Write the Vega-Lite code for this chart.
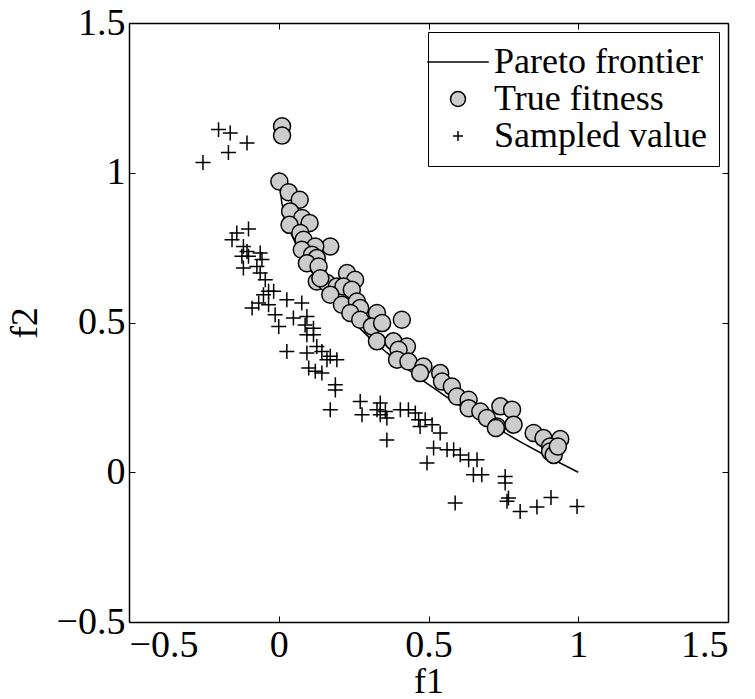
{
  "$schema": "https://vega.github.io/schema/vega-lite/v6.json",
  "width": 599,
  "height": 599,
  "autosize": "none",
  "padding": {"left": 129, "top": 23, "right": 27, "bottom": 77},
  "background": "white",
  "config": {
    "view": {"stroke": null},
    "font": "Liberation Serif",
    "axis": {
      "labelFont": "Liberation Serif",
      "labelFontSize": 38,
      "labelColor": "black",
      "titleFont": "Liberation Serif",
      "titleFontSize": 38,
      "titleFontWeight": "normal",
      "titleColor": "black",
      "domainColor": "black",
      "domainWidth": 1.5,
      "tickColor": "black",
      "tickWidth": 1,
      "tickSize": -6,
      "grid": false
    },
    "legend": {
      "labelFont": "Liberation Serif",
      "labelFontSize": 36,
      "labelColor": "black",
      "labelLimit": 500,
      "symbolStrokeWidth": 1.5
    }
  },
  "datasets": {
    "pareto": [
      {"s": "Pareto frontier", "f1": 0, "f2": 1},
      {"s": "Pareto frontier", "f1": 0.01, "f2": 0.9},
      {"s": "Pareto frontier", "f1": 0.02, "f2": 0.859},
      {"s": "Pareto frontier", "f1": 0.04, "f2": 0.8},
      {"s": "Pareto frontier", "f1": 0.06, "f2": 0.755},
      {"s": "Pareto frontier", "f1": 0.09, "f2": 0.7},
      {"s": "Pareto frontier", "f1": 0.12, "f2": 0.654},
      {"s": "Pareto frontier", "f1": 0.16, "f2": 0.6},
      {"s": "Pareto frontier", "f1": 0.2, "f2": 0.553},
      {"s": "Pareto frontier", "f1": 0.25, "f2": 0.5},
      {"s": "Pareto frontier", "f1": 0.3, "f2": 0.452},
      {"s": "Pareto frontier", "f1": 0.36, "f2": 0.4},
      {"s": "Pareto frontier", "f1": 0.42, "f2": 0.352},
      {"s": "Pareto frontier", "f1": 0.49, "f2": 0.3},
      {"s": "Pareto frontier", "f1": 0.56, "f2": 0.252},
      {"s": "Pareto frontier", "f1": 0.64, "f2": 0.2},
      {"s": "Pareto frontier", "f1": 0.72, "f2": 0.152},
      {"s": "Pareto frontier", "f1": 0.81, "f2": 0.1},
      {"s": "Pareto frontier", "f1": 0.9, "f2": 0.051},
      {"s": "Pareto frontier", "f1": 1.0, "f2": 0}
    ],
    "truefit": [
      {"s": "True fitness", "f1": 0.011, "f2": 1.155},
      {"s": "True fitness", "f1": 0.011, "f2": 1.124},
      {"s": "True fitness", "f1": 0.002, "f2": 0.971},
      {"s": "True fitness", "f1": 0.033, "f2": 0.935},
      {"s": "True fitness", "f1": 0.07, "f2": 0.91},
      {"s": "True fitness", "f1": 0.038, "f2": 0.871},
      {"s": "True fitness", "f1": 0.078, "f2": 0.849},
      {"s": "True fitness", "f1": 0.103, "f2": 0.832},
      {"s": "True fitness", "f1": 0.036, "f2": 0.826},
      {"s": "True fitness", "f1": 0.072, "f2": 0.799},
      {"s": "True fitness", "f1": 0.083, "f2": 0.776},
      {"s": "True fitness", "f1": 0.172, "f2": 0.754},
      {"s": "True fitness", "f1": 0.122, "f2": 0.754},
      {"s": "True fitness", "f1": 0.077, "f2": 0.743},
      {"s": "True fitness", "f1": 0.111, "f2": 0.726},
      {"s": "True fitness", "f1": 0.127, "f2": 0.715},
      {"s": "True fitness", "f1": 0.094, "f2": 0.698},
      {"s": "True fitness", "f1": 0.133, "f2": 0.687},
      {"s": "True fitness", "f1": 0.228, "f2": 0.665},
      {"s": "True fitness", "f1": 0.255, "f2": 0.643},
      {"s": "True fitness", "f1": 0.127, "f2": 0.637},
      {"s": "True fitness", "f1": 0.161, "f2": 0.632},
      {"s": "True fitness", "f1": 0.194, "f2": 0.62},
      {"s": "True fitness", "f1": 0.216, "f2": 0.62},
      {"s": "True fitness", "f1": 0.139, "f2": 0.648},
      {"s": "True fitness", "f1": 0.172, "f2": 0.593},
      {"s": "True fitness", "f1": 0.244, "f2": 0.609},
      {"s": "True fitness", "f1": 0.211, "f2": 0.559},
      {"s": "True fitness", "f1": 0.261, "f2": 0.57},
      {"s": "True fitness", "f1": 0.272, "f2": 0.548},
      {"s": "True fitness", "f1": 0.239, "f2": 0.532},
      {"s": "True fitness", "f1": 0.328, "f2": 0.532},
      {"s": "True fitness", "f1": 0.411, "f2": 0.509},
      {"s": "True fitness", "f1": 0.272, "f2": 0.509},
      {"s": "True fitness", "f1": 0.311, "f2": 0.487},
      {"s": "True fitness", "f1": 0.345, "f2": 0.498},
      {"s": "True fitness", "f1": 0.328, "f2": 0.437},
      {"s": "True fitness", "f1": 0.383, "f2": 0.437},
      {"s": "True fitness", "f1": 0.428, "f2": 0.42},
      {"s": "True fitness", "f1": 0.4, "f2": 0.409},
      {"s": "True fitness", "f1": 0.395, "f2": 0.376},
      {"s": "True fitness", "f1": 0.433, "f2": 0.37},
      {"s": "True fitness", "f1": 0.483, "f2": 0.353},
      {"s": "True fitness", "f1": 0.472, "f2": 0.331},
      {"s": "True fitness", "f1": 0.539, "f2": 0.331},
      {"s": "True fitness", "f1": 0.545, "f2": 0.303},
      {"s": "True fitness", "f1": 0.578, "f2": 0.286},
      {"s": "True fitness", "f1": 0.595, "f2": 0.253},
      {"s": "True fitness", "f1": 0.634, "f2": 0.242},
      {"s": "True fitness", "f1": 0.634, "f2": 0.214},
      {"s": "True fitness", "f1": 0.673, "f2": 0.203},
      {"s": "True fitness", "f1": 0.695, "f2": 0.181},
      {"s": "True fitness", "f1": 0.74, "f2": 0.22},
      {"s": "True fitness", "f1": 0.779, "f2": 0.209},
      {"s": "True fitness", "f1": 0.729, "f2": 0.153},
      {"s": "True fitness", "f1": 0.784, "f2": 0.159},
      {"s": "True fitness", "f1": 0.851, "f2": 0.131},
      {"s": "True fitness", "f1": 0.884, "f2": 0.114},
      {"s": "True fitness", "f1": 0.94, "f2": 0.111},
      {"s": "True fitness", "f1": 0.906, "f2": 0.086},
      {"s": "True fitness", "f1": 0.906, "f2": 0.069},
      {"s": "True fitness", "f1": 0.918, "f2": 0.058},
      {"s": "True fitness", "f1": 0.932, "f2": 0.086},
      {"s": "True fitness", "f1": 0.725, "f2": 0.148}
    ],
    "sampled": [
      {"s": "Sampled value", "f1": -0.201, "f2": 1.144},
      {"s": "Sampled value", "f1": -0.162, "f2": 1.133},
      {"s": "Sampled value", "f1": -0.106, "f2": 1.099},
      {"s": "Sampled value", "f1": -0.168, "f2": 1.068},
      {"s": "Sampled value", "f1": -0.253, "f2": 1.034},
      {"s": "Sampled value", "f1": -0.101, "f2": 0.812},
      {"s": "Sampled value", "f1": -0.14, "f2": 0.799},
      {"s": "Sampled value", "f1": -0.156, "f2": 0.776},
      {"s": "Sampled value", "f1": -0.118, "f2": 0.754},
      {"s": "Sampled value", "f1": -0.106, "f2": 0.737},
      {"s": "Sampled value", "f1": -0.062, "f2": 0.732},
      {"s": "Sampled value", "f1": -0.123, "f2": 0.721},
      {"s": "Sampled value", "f1": -0.101, "f2": 0.721},
      {"s": "Sampled value", "f1": -0.056, "f2": 0.71},
      {"s": "Sampled value", "f1": -0.118, "f2": 0.682},
      {"s": "Sampled value", "f1": -0.073, "f2": 0.687},
      {"s": "Sampled value", "f1": -0.062, "f2": 0.665},
      {"s": "Sampled value", "f1": -0.045, "f2": 0.643},
      {"s": "Sampled value", "f1": -0.034, "f2": 0.604},
      {"s": "Sampled value", "f1": -0.017, "f2": 0.604},
      {"s": "Sampled value", "f1": -0.051, "f2": 0.593},
      {"s": "Sampled value", "f1": -0.089, "f2": 0.548},
      {"s": "Sampled value", "f1": -0.067, "f2": 0.565},
      {"s": "Sampled value", "f1": -0.034, "f2": 0.559},
      {"s": "Sampled value", "f1": -0.012, "f2": 0.526},
      {"s": "Sampled value", "f1": 0.0, "f2": 0.487},
      {"s": "Sampled value", "f1": 0.027, "f2": 0.576},
      {"s": "Sampled value", "f1": 0.077, "f2": 0.565},
      {"s": "Sampled value", "f1": 0.049, "f2": 0.515},
      {"s": "Sampled value", "f1": 0.094, "f2": 0.52},
      {"s": "Sampled value", "f1": 0.088, "f2": 0.492},
      {"s": "Sampled value", "f1": 0.116, "f2": 0.481},
      {"s": "Sampled value", "f1": 0.094, "f2": 0.459},
      {"s": "Sampled value", "f1": 0.116, "f2": 0.459},
      {"s": "Sampled value", "f1": 0.027, "f2": 0.403},
      {"s": "Sampled value", "f1": 0.094, "f2": 0.398},
      {"s": "Sampled value", "f1": 0.127, "f2": 0.42},
      {"s": "Sampled value", "f1": 0.144, "f2": 0.403},
      {"s": "Sampled value", "f1": 0.1, "f2": 0.348},
      {"s": "Sampled value", "f1": 0.122, "f2": 0.337},
      {"s": "Sampled value", "f1": 0.144, "f2": 0.331},
      {"s": "Sampled value", "f1": 0.161, "f2": 0.376},
      {"s": "Sampled value", "f1": 0.172, "f2": 0.387},
      {"s": "Sampled value", "f1": 0.194, "f2": 0.376},
      {"s": "Sampled value", "f1": 0.189, "f2": 0.292},
      {"s": "Sampled value", "f1": 0.189, "f2": 0.275},
      {"s": "Sampled value", "f1": 0.172, "f2": 0.209},
      {"s": "Sampled value", "f1": 0.272, "f2": 0.236},
      {"s": "Sampled value", "f1": 0.278, "f2": 0.192},
      {"s": "Sampled value", "f1": 0.328, "f2": 0.209},
      {"s": "Sampled value", "f1": 0.339, "f2": 0.231},
      {"s": "Sampled value", "f1": 0.339, "f2": 0.192},
      {"s": "Sampled value", "f1": 0.356, "f2": 0.203},
      {"s": "Sampled value", "f1": 0.361, "f2": 0.181},
      {"s": "Sampled value", "f1": 0.361, "f2": 0.108},
      {"s": "Sampled value", "f1": 0.406, "f2": 0.209},
      {"s": "Sampled value", "f1": 0.433, "f2": 0.209},
      {"s": "Sampled value", "f1": 0.456, "f2": 0.198},
      {"s": "Sampled value", "f1": 0.467, "f2": 0.175},
      {"s": "Sampled value", "f1": 0.489, "f2": 0.175},
      {"s": "Sampled value", "f1": 0.472, "f2": 0.153},
      {"s": "Sampled value", "f1": 0.512, "f2": 0.159},
      {"s": "Sampled value", "f1": 0.539, "f2": 0.131},
      {"s": "Sampled value", "f1": 0.517, "f2": 0.081},
      {"s": "Sampled value", "f1": 0.495, "f2": 0.031},
      {"s": "Sampled value", "f1": 0.562, "f2": 0.075},
      {"s": "Sampled value", "f1": 0.584, "f2": 0.075},
      {"s": "Sampled value", "f1": 0.606, "f2": 0.058},
      {"s": "Sampled value", "f1": 0.634, "f2": 0.042},
      {"s": "Sampled value", "f1": 0.662, "f2": 0.042},
      {"s": "Sampled value", "f1": 0.65, "f2": -0.008},
      {"s": "Sampled value", "f1": 0.678, "f2": -0.008},
      {"s": "Sampled value", "f1": 0.589, "f2": -0.103},
      {"s": "Sampled value", "f1": 0.756, "f2": -0.014},
      {"s": "Sampled value", "f1": 0.756, "f2": -0.036},
      {"s": "Sampled value", "f1": 0.767, "f2": -0.086},
      {"s": "Sampled value", "f1": 0.762, "f2": -0.097},
      {"s": "Sampled value", "f1": 0.806, "f2": -0.131},
      {"s": "Sampled value", "f1": 0.862, "f2": -0.116},
      {"s": "Sampled value", "f1": 0.909, "f2": -0.084},
      {"s": "Sampled value", "f1": 0.996, "f2": -0.114}
    ]
  },
  "layer": [
    {
      "data": {"name": "pareto"},
      "mark": {"type": "line", "color": "black", "strokeWidth": 1.5},
      "encoding": {
        "x": {"field": "f1", "type": "quantitative", "scale": {"domain": [-0.5, 1.5], "nice": false, "zero": false}, "axis": {"orient": "bottom", "title": "f1", "values": [-0.5, 0, 0.5, 1, 1.5], "format": ".1~f", "labelPadding": 10, "titleBaseline": "alphabetic", "titleY": 70, "titleFontSize": 36}},
        "y": {"field": "f2", "type": "quantitative", "scale": {"domain": [-0.5, 1.5], "nice": false, "zero": false}, "axis": {"orient": "left", "title": "f2", "values": [-0.5, 0, 0.5, 1, 1.5], "format": ".1~f", "labelPadding": 10, "titlePadding": 12}}
      }
    },
    {
      "data": {"name": "truefit"},
      "mark": {"type": "point", "filled": false, "strokeWidth": 1.5, "opacity": 1, "size": 289},
      "encoding": {
        "x": {"field": "f1", "type": "quantitative", "axis": {"orient": "top", "labels": false, "title": null, "values": [-0.5, 0, 0.5, 1, 1.5]}},
        "y": {"field": "f2", "type": "quantitative", "axis": {"orient": "right", "labels": false, "title": null, "values": [-0.5, 0, 0.5, 1, 1.5]}},
        "shape": {
          "field": "s", "type": "nominal",
          "scale": {"domain": ["Pareto frontier", "True fitness", "Sampled value"], "range": ["M-4.1,0L4.1,0", "circle", "M-0.67,0L0.67,0M0,-0.67L0,0.67"]},
          "legend": {
            "title": null, "orient": "top-right", "offset": 9,
            "strokeColor": "black", "fillColor": "white", "padding": 12,
            "symbolSize": 225, "symbolStrokeWidth": 1.5,
            "labelOffset": 18, "rowPadding": 1
          }
        },
        "fill": {
          "field": "s", "type": "nominal",
          "scale": {"domain": ["Pareto frontier", "True fitness", "Sampled value"], "range": ["transparent", "#cccccc", "transparent"]}
        },
        "stroke": {
          "field": "s", "type": "nominal",
          "scale": {"domain": ["Pareto frontier", "True fitness", "Sampled value"], "range": ["black", "black", "black"]}
        }
      }
    },
    {
      "data": {"name": "sampled"},
      "mark": {"type": "point", "filled": false, "strokeWidth": 1.5, "opacity": 1, "size": 500},
      "encoding": {
        "x": {"field": "f1", "type": "quantitative", "axis": null},
        "y": {"field": "f2", "type": "quantitative", "axis": null},
        "shape": {"field": "s", "type": "nominal"},
        "fill": {"field": "s", "type": "nominal"},
        "stroke": {"field": "s", "type": "nominal"}
      }
    }
  ],
  "resolve": {"axis": {"x": "independent", "y": "independent"}}
}
